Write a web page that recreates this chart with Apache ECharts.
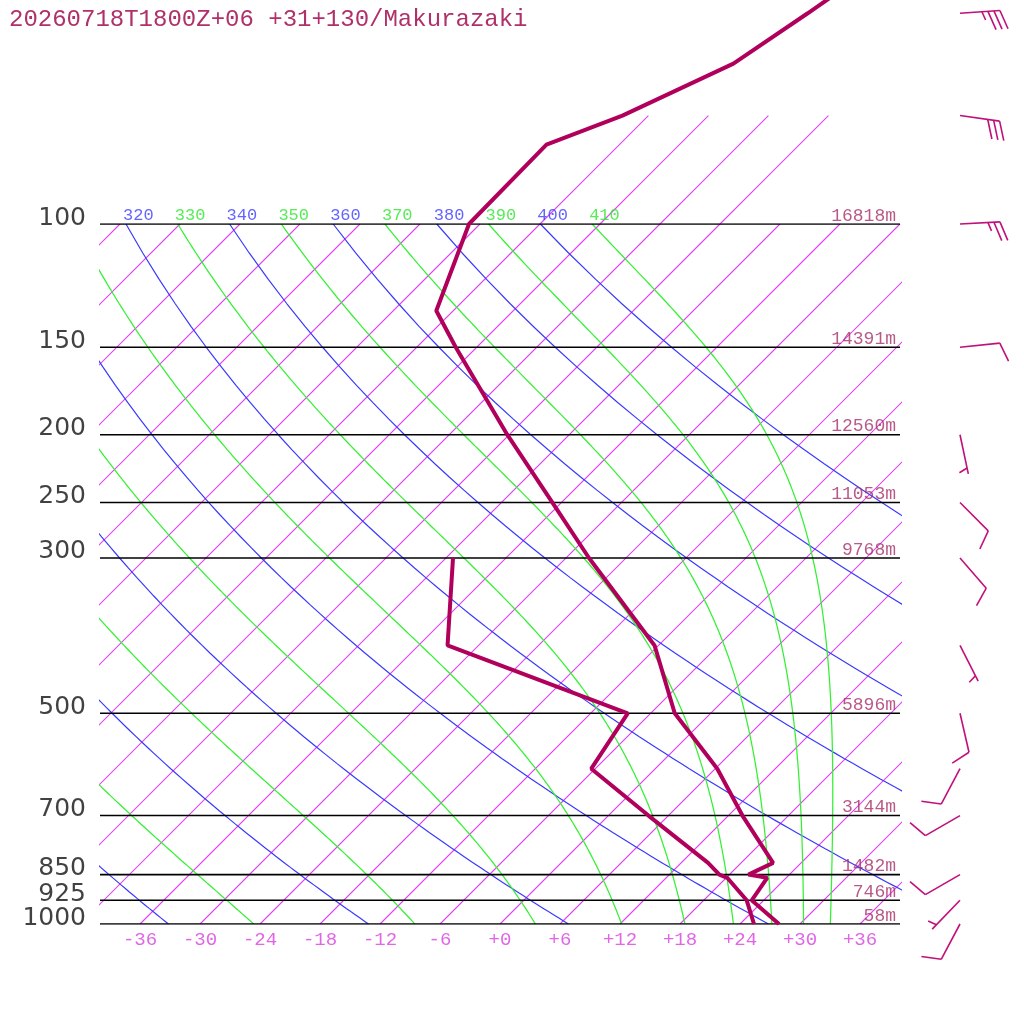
<!DOCTYPE html>
<html>
<head>
<meta charset="utf-8">
<title>Skew-T Makurazaki</title>
<script src="https://cdn.jsdelivr.net/npm/echarts@6/dist/echarts.min.js"></script>
<style>
html, body { margin: 0; padding: 0; background: #fff; }
#main { width: 1024px; height: 1024px; }
</style>
</head>
<body>
<div id="main"></div>
<script>
var titleText = '20260718T1800Z+06 +31+130/Makurazaki';

// sounding (hPa, degC)
var levels = [1000, 925, 859, 850, 818, 700, 600, 500, 400, 300, 250, 200, 150, 133, 100, 77, 70, 59, 50, 40];
var temps = [27.9, 22.8, 22.1, 19.9, 21.2, 13.4, 6.2, -3.6, -12.4, -27.7, -36.9, -48.2, -62.1, -67.7, -73.1, -73.3, -68.6, -62.7, -60.3, -57.3];
var dewpts = [25.4, 22.3, 18.1, 17.0, 14.7, 4.0, -6.4, -8.3, -33.1, -41.3];

// isobars with geopotential heights
var isobars = [1000, 925, 850, 700, 500, 300, 250, 200, 150, 100];
var heights = [58, 746, 1482, 3144, 5896, 9768, 11053, 12560, 14391, 16818];

// winds (direction from, knots)
var windLevels = [1000, 925, 850, 700, 600, 500, 400, 300, 250, 200, 150, 100, 70, 50];
var windDirs = [208, 224, 240, 240, 208, 167, 153, 139, 135, 168, 84, 87, 98, 86];
var windSpeeds = [10, 5, 10, 10, 10, 10, 5, 10, 10, 5, 10, 25, 30, 35];

// background lines
var tempTicks = [-36, -30, -24, -18, -12, -6, 0, 6, 12, 18, 24, 30, 36];
var isotherms = [-108, -102, -96, -90, -84, -78, -72, -66, -60, -54, -48, -42, -36, -30, -24, -18, -12, -6, 0, 6, 12, 18, 24, 30, 36];
var topIsotherms = [-66, -60, -54, -48];
var dryThetas = [240, 260, 280, 300, 320, 340, 360, 380, 400];
var dryLabels = [320, 340, 360, 380, 400];
var moistThetas = [250, 270, 290, 310, 330, 350, 370, 390, 410];
var moistLabels = [330, 350, 370, 390, 410];

var SKEW = 70;      // degC of shift per pressure decade
var KAPPA = 0.2857;
var BARB_X = 46;    // x (skewed degC) where the barbs are anchored

function skewX(t, p) {
    return t + SKEW * Math.log10(1000 / p);
}

function dryLine(theta) {
    var pts = [];
    for (var p = 100; p <= 1000; p += 10) {
        pts.push([skewX(theta * Math.pow(p / 1000, KAPPA) - 273.15, p), p]);
    }
    return pts;
}

function moistRate(t, p) {
    var tc = t - 273.15;
    var es = 6.112 * Math.exp(17.67 * tc / (tc + 243.5));
    var rs = 0.622 * es / (p - es);
    var num = (287.04 * t + 2.501e6 * rs) / p;
    var den = 1005.7 + (2.501e6 * 2.501e6 * rs * 0.622) / (287.04 * t * t);
    return num / den;
}

function moistLine(theta) {
    var pts = [];
    var p = 100, t = theta * Math.pow(0.1, KAPPA), dp = 2;
    while (p <= 1000) {
        pts.push([skewX(t - 273.15, p), p]);
        var k1 = moistRate(t, p);
        var k2 = moistRate(t + k1 * dp, p + dp);
        t += 0.5 * (k1 + k2) * dp;
        p += dp;
    }
    return pts;
}

function thinLine(data, color, clip, width) {
    return {
        type: 'line', data: data, symbol: 'none', silent: true,
        clip: clip !== false, animation: false,
        color: color,
        itemStyle: { color: color },
        lineStyle: { color: color, width: width || 1.2 }, z: 2
    };
}

var series = [];

isotherms.forEach(function (t) {
    series.push(thinLine([[skewX(t, 1000), 1000], [skewX(t, 400), 400], [skewX(t, 100), 100]], '#e046f0', true, 1.15));
});
topIsotherms.forEach(function (t) {
    series.push(thinLine([[skewX(t, 100), 100], [skewX(t, 85), 85], [skewX(t, 70), 70]], '#e046f0', false, 1.15));
});
dryThetas.forEach(function (th) {
    series.push(thinLine(dryLine(th), '#3a3aff'));
});
moistThetas.forEach(function (th) {
    series.push(thinLine(moistLine(th), '#33f033', true, 1.25));
});
isobars.forEach(function (p) {
    var s = thinLine([[-40, p], [40, p]], '#000', true, 1.6);
    s.z = 3;
    series.push(s);
});

// labels
function labelSeries(data, color, size, align, vAlign, offset, family) {
    return {
        type: 'scatter', data: data, symbolSize: 0, silent: true, animation: false,
        z: 4,
        label: {
            show: true, position: [0, 0], align: align, verticalAlign: vAlign,
            offset: offset, color: color, fontSize: size,
            fontFamily: family || 'Liberation Mono',
            formatter: function (d) { return d.value[2]; }
        }
    };
}

series.push(labelSeries(topIsotherms.map(function (t) {
    return [skewX(t, 70), 70, String(t)];
}), '#e066e6', 19, 'left', 'bottom', [0, 3]));

series.push(labelSeries(dryLabels.map(function (th) {
    return [skewX(th * Math.pow(0.1, KAPPA) - 273.15, 100), 100, String(th)];
}), '#3c3cff', 17, 'left', 'bottom', [-3, 0]));

series.push(labelSeries(moistLabels.map(function (th) {
    return [skewX(th * Math.pow(0.1, KAPPA) - 273.15, 100), 100, String(th)];
}), '#2ee62e', 17, 'left', 'bottom', [-3, 0]));

series.push(labelSeries(isobars.map(function (p, i) {
    return [40, p, heights[i] + 'm'];
}), '#a8306a', 18, 'right', 'bottom', [-4, 1]));

series.push(labelSeries(isobars.map(function (p) {
    return [-40, p, String(p)];
}), '#111', 25, 'right', 'middle', [-14, -6], 'DejaVu Sans'));

// temperature and dewpoint
series.push({
    type: 'line', symbol: 'none', silent: true, clip: false, animation: false, z: 6,
    color: '#b0005c',
    lineStyle: { color: '#b0005c', width: 4 },
    data: levels.map(function (p, i) { return [skewX(temps[i], p), p]; })
});
series.push({
    type: 'line', symbol: 'none', silent: true, clip: false, animation: false, z: 6,
    color: '#b0005c',
    lineStyle: { color: '#b0005c', width: 4 },
    data: dewpts.map(function (td, i) { return [skewX(td, levels[i]), levels[i]]; })
});

// wind barbs
series.push({
    type: 'custom', silent: true, clip: false, animation: false, z: 5,
    data: windLevels.map(function (p, i) { return [BARB_X, p, windDirs[i], windSpeeds[i]]; }),
    encode: { x: 0, y: 1 },
    renderItem: function (params, api) {
        var base = api.coord([api.value(0), api.value(1)]);
        var d = api.value(2) * Math.PI / 180;
        var spd = api.value(3);
        var ux = Math.sin(d), uy = -Math.cos(d);
        var a = 70 * Math.PI / 180;
        var bx = ux * Math.cos(a) - uy * Math.sin(a);
        var by = ux * Math.sin(a) + uy * Math.cos(a);
        var L = 40, gap = 6;
        var style = { stroke: '#c0107a', lineWidth: 1.6, fill: null };
        var children = [{
            type: 'line',
            shape: { x1: base[0], y1: base[1], x2: base[0] + ux * L, y2: base[1] + uy * L },
            style: style
        }];
        var full = Math.floor(spd / 10);
        var half = (spd % 10) >= 5 ? 1 : 0;
        var pos = L;
        if (full === 0 && half) pos = L - gap;
        for (var k = 0; k < full + half; k++) {
            var len = k < full ? 20 : 9;
            var sx = base[0] + ux * pos, sy = base[1] + uy * pos;
            children.push({
                type: 'line',
                shape: { x1: sx, y1: sy, x2: sx + bx * len, y2: sy + by * len },
                style: style
            });
            pos -= gap;
        }
        return { type: 'group', children: children };
    }
});

var myChart = echarts.init(document.getElementById('main'));
var option = {
    backgroundColor: '#fff',
    animation: false,
    title: {
        text: titleText, left: 4, top: 3,
        textStyle: { fontFamily: 'Liberation Mono', fontSize: 24, fontWeight: 'normal', color: '#b0306a' }
    },
    grid: { left: 100, top: 224, width: 800, height: 700 },
    xAxis: {
        type: 'value', min: -40, max: 40,
        axisLine: { show: false }, axisTick: { show: false }, splitLine: { show: false },
        axisLabel: {
            customValues: tempTicks, margin: 6,
            color: '#e066e6', fontSize: 19, fontFamily: 'Liberation Mono',
            formatter: function (v) { return v >= 0 ? '+' + v : String(v); }
        }
    },
    yAxis: {
        type: 'log', logBase: 10, min: 100, max: 1000, inverse: true,
        axisLine: { show: false }, axisTick: { show: false }, splitLine: { show: false },
        axisLabel: { show: false }
    },
    series: series
};
myChart.setOption(option);
window.onresize = function () {
    myChart.resize();
};
</script>
</body>
</html>
